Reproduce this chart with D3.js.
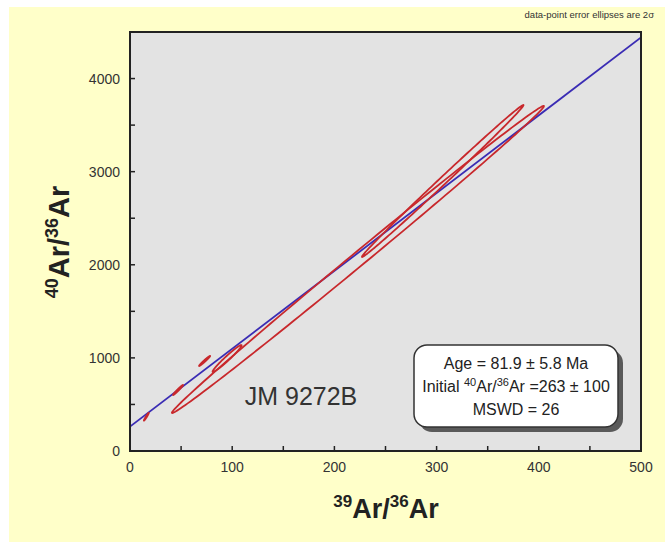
<!DOCTYPE html>
<html>
<head>
<meta charset="utf-8">
<script src="https://cdn.jsdelivr.net/npm/d3@7"></script>
<style>
  body { margin: 0; background: #fff; }
  text { font-family: "Liberation Sans", Arial, sans-serif; }
</style>
</head>
<body>
<div id="chart"></div>
<script>
// axis ticks
const xTicks = [0, 100, 200, 300, 400, 500];
const yTicks = [0, 1000, 2000, 3000, 4000];
const xMinor = [0, 50, 100, 150, 200, 250, 300, 350, 400, 450, 500];
const yMinor = [0, 500, 1000, 1500, 2000, 2500, 3000, 3500, 4000, 4500];

// error ellipses (2 sigma): centre, half-extent and error correlation
const ellX   = [16, 47, 73, 95, 223, 306];
const ellY   = [368, 655, 967, 993, 2057, 2900];
const ellSX  = [2.4, 4.9, 5.4, 14.2, 182, 79];
const ellSY  = [42, 54, 54, 145, 1649, 816];
const ellRho = [0.97, 0.98, 0.98, 0.975, 0.9983, 0.9978];

// isochron line
const isoX = [0, 500];
const isoY = [263, 4441];

const boxLines = ["Age = 81.9 \u00b1 5.8 Ma", "=263 \u00b1 100", "MSWD = 26"];
const sampleName = "JM 9272B";

const width = 665, height = 542;
const margin = { left: 130, top: 32, right: 24, bottom: 91 };

const svg = d3.select("#chart").append("svg")
    .attr("width", width)
    .attr("height", height);

svg.append("rect")
    .attr("x", 9).attr("y", 7)
    .attr("width", width - 9).attr("height", height - 7)
    .attr("fill", "#ffffc9");

const x = d3.scaleLinear().domain([0, 500]).range([margin.left, width - margin.right]);
const y = d3.scaleLinear().domain([0, 4500]).range([height - margin.bottom, margin.top]);

const pw = x(500) - x(0), ph = y(0) - y(4500);

svg.append("rect")
    .attr("x", x(0)).attr("y", y(4500))
    .attr("width", pw).attr("height", ph)
    .attr("fill", "#e3e3e3");

svg.append("clipPath").attr("id", "clip")
    .append("rect")
    .attr("x", x(0)).attr("y", y(4500))
    .attr("width", pw).attr("height", ph);

const plot = svg.append("g").attr("clip-path", "url(#clip)");

// isochron
plot.append("line")
    .attr("x1", x(isoX[0])).attr("y1", y(isoY[0]))
    .attr("x2", x(isoX[1])).attr("y2", y(isoY[1]))
    .attr("stroke", "#3a2cb4")
    .attr("stroke-width", 1.8);

// ellipses
const ellLine = d3.line().curve(d3.curveLinearClosed);
ellX.forEach((cx, i) => {
    const pts = d3.range(0, 360, 2).map(a => {
        const t = a * Math.PI / 180;
        const r = ellRho[i];
        return [
            x(cx + ellSX[i] * Math.cos(t)),
            y(ellY[i] + ellSY[i] * (r * Math.cos(t) + Math.sqrt(1 - r * r) * Math.sin(t)))
        ];
    });
    plot.append("path")
        .attr("d", ellLine(pts))
        .attr("fill", "none")
        .attr("stroke", "#c8282c")
        .attr("stroke-width", 1.8);
});

// frame
svg.append("rect")
    .attr("x", x(0)).attr("y", y(4500))
    .attr("width", pw).attr("height", ph)
    .attr("fill", "none")
    .attr("stroke", "#222")
    .attr("stroke-width", 2);

// ticks (inward)
svg.append("g").selectAll("line").data(xMinor).join("line")
    .attr("x1", d => x(d)).attr("x2", d => x(d))
    .attr("y1", y(0)).attr("y2", y(0) - 5)
    .attr("stroke", "#222").attr("stroke-width", 1.5);

svg.append("g").selectAll("line").data(yMinor).join("line")
    .attr("y1", d => y(d)).attr("y2", d => y(d))
    .attr("x1", x(0)).attr("x2", x(0) + 5)
    .attr("stroke", "#222").attr("stroke-width", 1.5);

svg.append("g").selectAll("text").data(xTicks).join("text")
    .attr("x", d => x(d))
    .attr("y", y(0) + 21)
    .attr("text-anchor", "middle")
    .attr("font-size", "14px")
    .attr("fill", "#333")
    .text(d => d);

svg.append("g").selectAll("text").data(yTicks).join("text")
    .attr("x", x(0) - 10)
    .attr("y", d => y(d) + 5)
    .attr("text-anchor", "end")
    .attr("font-size", "14px")
    .attr("fill", "#333")
    .text(d => d);

// axis titles
function ratioTitle(g, top, big, small) {
    const t = g.append("text")
        .attr("text-anchor", "middle")
        .attr("font-weight", "bold")
        .attr("fill", "#222");
    t.append("tspan").attr("font-size", small + "px").attr("dy", -11).text(top);
    t.append("tspan").attr("font-size", big + "px").attr("dy", 11).text("Ar/");
    t.append("tspan").attr("font-size", small + "px").attr("dy", -11).text("36");
    t.append("tspan").attr("font-size", big + "px").attr("dy", 11).text("Ar");
    return t;
}

ratioTitle(svg.append("g").attr("transform", "translate(386,518)"), "39", 27, 17);
ratioTitle(svg.append("g").attr("transform", "translate(69,242) rotate(-90)"), "40", 29, 18);

// note
svg.append("text")
    .attr("x", 654).attr("y", 18)
    .attr("text-anchor", "end")
    .attr("font-size", "9.5px")
    .attr("fill", "#333")
    .text("data-point error ellipses are 2\u03c3");

// sample name
svg.append("text")
    .attr("x", 301).attr("y", 405)
    .attr("text-anchor", "middle")
    .attr("font-size", "25px")
    .attr("fill", "#333")
    .text(sampleName);

// result box
const bx = 414, by = 345, bw = 204, bh = 82;
svg.append("rect")
    .attr("x", bx + 5).attr("y", by + 5)
    .attr("width", bw).attr("height", bh)
    .attr("rx", 13)
    .attr("fill", "#5a5a5a");
svg.append("rect")
    .attr("x", bx).attr("y", by)
    .attr("width", bw).attr("height", bh)
    .attr("rx", 13)
    .attr("fill", "#fff")
    .attr("stroke", "#333")
    .attr("stroke-width", 1.5);

const cxBox = bx + bw / 2;
svg.append("text")
    .attr("x", cxBox).attr("y", by + 24)
    .attr("text-anchor", "middle")
    .attr("font-size", "16px").attr("fill", "#222")
    .text(boxLines[0]);

const l2 = svg.append("text")
    .attr("x", cxBox).attr("y", by + 47)
    .attr("text-anchor", "middle")
    .attr("font-size", "16px").attr("fill", "#222");
l2.append("tspan").text("Initial ");
l2.append("tspan").attr("font-size", "11px").attr("dy", -6).text("40");
l2.append("tspan").attr("dy", 6).text("Ar/");
l2.append("tspan").attr("font-size", "11px").attr("dy", -6).text("36");
l2.append("tspan").attr("dy", 6).text("Ar " + boxLines[1]);

svg.append("text")
    .attr("x", cxBox).attr("y", by + 70)
    .attr("text-anchor", "middle")
    .attr("font-size", "16px").attr("fill", "#222")
    .text(boxLines[2]);
</script>
</body>
</html>
